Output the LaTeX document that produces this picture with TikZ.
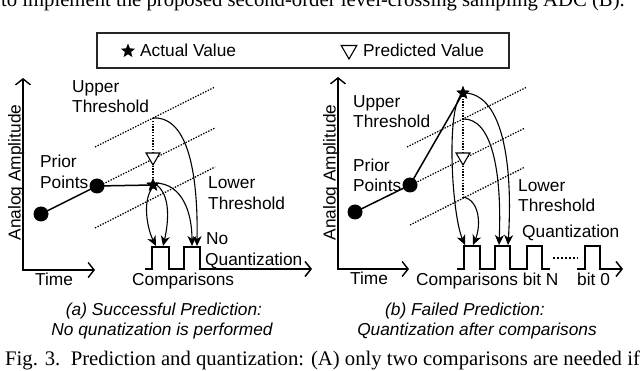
\documentclass[tikz,border=0pt]{standalone}
\usepackage{fontspec}
\setmainfont{Liberation Sans}
\newfontfamily\serifcap{Liberation Serif}
\usetikzlibrary{arrows.meta,shapes.geometric}
\tikzset{
  lbl/.style={font=\fontsize{17.3}{20}\selectfont, inner sep=0pt, anchor=base west},
  subcap/.style={font=\fontsize{17.3}{20}\selectfont\itshape, inner sep=0pt, anchor=base},
  thr/.style={line width=1.3pt, dash pattern=on 1.4pt off 1.4pt},
  vdot/.style={line width=1.3pt, dash pattern=on 1.4pt off 1.4pt},
  ax/.style={line width=1.4pt, {Straight Barb[length=6pt,width=15pt]}-{Straight Barb[length=6pt,width=15pt]}},
  wave/.style={line width=1.5pt, -{Straight Barb[length=6pt,width=15pt]}},
  wavepart/.style={line width=1.5pt},
  carr/.style={line width=1.1pt, -{Stealth[length=10pt,width=9pt,inset=3pt]}},
  dotpt/.style={circle, fill=black, minimum size=15pt, inner sep=0pt},
  actual/.style={star, star points=5, star point ratio=2.3, fill=black, minimum size=14pt, inner sep=0pt},
  predicted/.style={regular polygon, regular polygon sides=3, shape border rotate=180, draw=black, line width=1.1pt, fill=white, minimum size=16pt, inner sep=0pt},
  link/.style={line width=1.5pt}
}
\begin{document}
\begin{tikzpicture}[x=1pt,y=-1pt]
\useasboundingbox (0,0) rectangle (640,371);

% clipped body text line at top
\node[font=\fontsize{20.7}{24}\serifcap, inner sep=0pt, anchor=base east] (topline) at (625,6.5) {to implement the proposed second-order level-crossing sampling ADC (B).};

% legend
\draw[line width=2pt, draw=black!85] (97,33) rectangle (509,68);
\node[actual, minimum size=15pt] (legstar) at (128,51) {};
\node[lbl] (legact) at (140,57) {Actual Value};
\node[predicted, minimum size=18pt] (legtri) at (349,50) {};
\node[lbl] (legpred) at (363,57) {Predicted Value};

% ================= LEFT PANEL =================
\draw[ax] (23,78) -- (23,270) -- (95,270);
\node[lbl, rotate=90, anchor=base] (ylabL) at (20.5,172.5) {Analog Amplitude};
\node[lbl] (timeL) at (35,286) {Time};

\draw[thr] (95,147) -- (215,87);
\draw[thr] (103,184) -- (215,128);
\draw[thr] (95,228) -- (215,167);

\coordinate (uL) at (153,118);
\node[dotpt] (d1L) at (41,214) {};
\node[dotpt] (d2L) at (97,186) {};
\node[actual] (sL) at (153,185) {};
\draw[vdot] (uL) -- (sL.center);
\node[predicted] (pL) at (153,157) {};
\draw[link] (d1L.center) -- (d2L.center) -- (sL.center);
\node[actual] at (153,185) {};

\node[lbl] (upL1) at (72,93) {Upper};
\node[lbl] (upL2) at (72,113) {Threshold};
\node[lbl] (prL1) at (40,168) {Prior};
\node[lbl] (prL2) at (40,189) {Points};
\node[lbl] (loL1) at (208,189) {Lower};
\node[lbl] (loL2) at (208,210) {Threshold};

% waveform left
\draw[wave] (145,269) -- (152,269) -- (152,247) -- (169,247) -- (169,269) -- (184,269) -- (184,247) -- (200,247) -- (200,269) -- (312,269);
\coordinate (tAL) at (156,246);
\coordinate (tBL) at (163,246);
\coordinate (tCL) at (192,246);
\coordinate (tDL) at (197,246);
\draw[carr] (153,187) .. controls (142,200) and (147,228) .. (tAL);
\draw[carr] (155,184) .. controls (172,194) and (168,225) .. (tBL);
\draw[carr] (156,183) .. controls (182,184) and (192,212) .. (tCL);
\draw[carr] (uL) .. controls (190,116) and (198,180) .. (tDL);

\node[lbl] (noL1) at (206,245) {No};
\node[lbl] (noL2) at (205,266) {Quantization};
\node[lbl] (cmpL) at (132,286) {Comparisons};

\node[subcap] (capA1) at (164,316) {(a) Successful Prediction:};
\node[subcap] (capA2) at (162,336) {No qunatization is performed};

% ================= RIGHT PANEL =================
\draw[ax] (338,77) -- (338,269) -- (409,269);
\node[lbl, rotate=90, anchor=base] (ylabR) at (335.5,172.5) {Analog Amplitude};
\node[lbl] (timeR) at (350,285) {Time};

\draw[thr] (407,147) -- (527,87);
\draw[thr] (415,183) -- (525,128);
\draw[thr] (410,225) -- (525,167);

\coordinate (uR) at (463,119);
\coordinate (lR) at (463,197);
\node[dotpt] (d1R) at (355,212) {};
\node[dotpt] (d2R) at (410,185) {};
\node[actual] (sR) at (463,93) {};
\draw[vdot] (sR.center) -- (lR);
\node[predicted] (pR) at (463,157) {};
\draw[link] (d1R.center) -- (d2R.center) -- (sR.center);
\node[actual] at (463,93) {};

\node[lbl] (upR1) at (353,108) {Upper};
\node[lbl] (upR2) at (353,128) {Threshold};
\node[lbl] (prR1) at (353,172) {Prior};
\node[lbl] (prR2) at (353,192) {Points};
\node[lbl] (loR1) at (518,192) {Lower};
\node[lbl] (loR2) at (518,212) {Threshold};

% waveform right
\draw[wavepart] (457,269) -- (464,269) -- (464,246) -- (480,246) -- (480,269) -- (495,269) -- (495,246) -- (510,246) -- (510,269) -- (527,269) -- (527,246) -- (542,246) -- (542,269) -- (550,269);
\coordinate (dotsA) at (553,258);
\coordinate (dotsB) at (578,258);
\draw[line width=1.6pt, dash pattern=on 1.6pt off 2.4pt] (dotsA) -- (dotsB);
\draw[wave] (577,269) -- (585,269) -- (585,246) -- (600,246) -- (600,269) -- (623,269);

\coordinate (tAR) at (465,245);
\coordinate (tBR) at (473,245);
\coordinate (tCR) at (499,245);
\coordinate (tDR) at (508,245);
\draw[carr] (461,95) .. controls (446,112) and (452,215) .. (tAR);
\draw[carr] (lR) .. controls (480,200) and (481,226) .. (tBR);
\draw[carr] (uR) .. controls (492,118) and (502,172) .. (tCR);
\draw[carr] (466,93) .. controls (503,96) and (513,165) .. (tDR);

\node[lbl] (qR) at (522,238) {Quantization};
\node[lbl] (cmpR) at (416,286) {Comparisons bit N};
\node[lbl] (bit0) at (577,286) {bit 0};

\node[subcap] (capB1) at (465,316) {(b) Failed Prediction:};
\node[subcap] (capB2) at (477,336) {Quantization after comparisons};

% figure caption
\node[font=\fontsize{20.7}{24}\serifcap, inner sep=0pt, anchor=base west] (figcap) at (5,366) {Fig. 3.\enspace Prediction and quantization: (A) only two comparisons are needed if};
\end{tikzpicture}
\end{document}
